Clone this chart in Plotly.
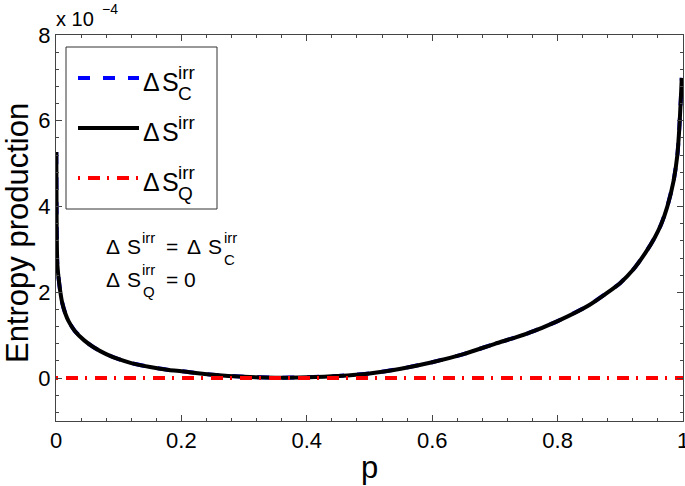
import plotly.graph_objects as go

# ---------------- data (entropy values in units of 1e-4) ----------------
p_vals = [0.0005, 0.001, 0.002, 0.004, 0.0065, 0.01, 0.015, 0.02, 0.03, 0.045,
          0.06, 0.08, 0.10, 0.12, 0.15, 0.18, 0.20, 0.25, 0.30, 0.35,
          0.40, 0.45, 0.50, 0.55, 0.60, 0.65, 0.70, 0.75, 0.80, 0.85,
          0.88, 0.90, 0.92, 0.94, 0.955, 0.965, 0.975, 0.985, 0.991, 0.994,
          0.9965, 0.998]
ds_total = [5.27, 3.6, 2.7, 2.35, 2.05, 1.75, 1.5, 1.33, 1.1, 0.88,
            0.72, 0.56, 0.44, 0.35, 0.26, 0.19, 0.16, 0.08, 0.03, 0.01,
            0.02, 0.05, 0.11, 0.22, 0.37, 0.56, 0.80, 1.03, 1.33, 1.70,
            2.0, 2.22, 2.52, 2.92, 3.28, 3.58, 4.0, 4.6, 5.2, 5.8,
            6.5, 7.0]
ds_classical = list(ds_total)          # ΔS_C^irr coincides with ΔS^irr
p_quantum = [0.0, 1.0]
ds_quantum = [0.0, 0.0]                 # ΔS_Q^irr = 0

x_ticks = [0, 0.2, 0.4, 0.6, 0.8, 1]
y_ticks = [0, 2, 4, 6, 8]

# ---------------- geometry helpers ----------------
W, H = 685, 486
L, R, T, B = 56, 683, 35, 421


def px(x):
    return (x - L) / (R - L)


def py(y):
    return (B - y) / (B - T)


FONT = "Liberation Sans, Arial, Helvetica, sans-serif"

fig = go.Figure()
fig.add_trace(go.Scatter(x=p_vals, y=ds_classical, mode="lines",
                         line=dict(color="#0000FF", width=4, dash="12px,13px",
                                   shape="spline", smoothing=0.6),
                         showlegend=False))
fig.add_trace(go.Scatter(x=p_vals, y=ds_total, mode="lines",
                         line=dict(color="#000000", width=4,
                                   shape="spline", smoothing=0.6),
                         showlegend=False))
fig.add_trace(go.Scatter(x=p_quantum, y=ds_quantum, mode="lines",
                         line=dict(color="#FF0000", width=4, dash="2px,8px,12px,7px"),
                         showlegend=False))

axis_common = dict(
    showline=True, linecolor="#444", linewidth=1, mirror="allticks",
    ticks="inside", ticklen=6, tickcolor="#444", tickwidth=1,
    showgrid=False, zeroline=False, automargin=False,
    ticklabeloverflow="allow",
    tickfont=dict(family=FONT, size=22, color="black"),
)
fig.update_xaxes(range=[0, 1], tickvals=x_ticks,
                 minor=dict(dtick=0.04, tick0=0, ticks="inside", ticklen=3,
                            tickcolor="#444", showgrid=False),
                 **axis_common)
fig.update_yaxes(range=[-1, 8], tickvals=y_ticks,
                 minor=dict(dtick=0.4, tick0=0, ticks="inside", ticklen=3,
                            tickcolor="#444", showgrid=False),
                 **axis_common)

ann = []


def txt(s, x, y, size, xanchor="left", angle=0):
    ann.append(dict(text=s, x=px(x), y=py(y), xref="paper", yref="paper",
                    xanchor=xanchor, yanchor="middle", showarrow=False,
                    textangle=angle, borderpad=0,
                    font=dict(family=FONT, size=size, color="black")))


# axis titles
txt("p", 369, 467, 31, xanchor="center")
txt("Entropy production", 17, 233, 31, xanchor="center", angle=-90)
# exponent label
txt("x 10", 55, 19, 20)
txt("\u22124", 101, 9, 14)

# legend (manual)
shapes = [dict(type="rect", xref="paper", yref="paper",
               x0=px(66), x1=px(217), y0=py(209), y1=py(47),
               line=dict(color="#333", width=1), fillcolor="white", layer="above")]
legend_items = [
    (78, "#0000FF", "12px,13px", "C"),
    (128, "#000000", "solid", None),
    (178, "#FF0000", "2px,8px,12px,7px", "Q"),
]
for ly, col, dash, sub in legend_items:
    shapes.append(dict(type="line", xref="paper", yref="paper",
                       x0=px(78), x1=px(139), y0=py(ly), y1=py(ly),
                       line=dict(color=col, width=4, dash=dash), layer="above"))
    txt("\u0394", 142, ly + 4, 25)
    txt("S", 161, ly + 4, 25)
    txt("irr", 177, ly - 6, 19)
    if sub:
        txt(sub, 177, ly + 15, 19)

# in-plot text
txt("\u0394", 105, 247, 21)
txt("S", 126, 247, 21)
txt("irr", 141, 237, 15)
txt("=", 165, 247, 21)
txt("\u0394", 186, 247, 21)
txt("S", 207, 247, 21)
txt("irr", 223, 237, 15)
txt("C", 223, 259, 15)
txt("\u0394", 105, 279, 21)
txt("S", 126, 279, 21)
txt("irr", 141, 269, 15)
txt("Q", 142, 292, 15)
txt("= 0", 165, 279, 21)

fig.update_layout(
    width=W, height=H,
    margin=dict(l=L, r=W - R, t=T, b=H - B, autoexpand=False),
    paper_bgcolor="white", plot_bgcolor="white",
    showlegend=False,
    annotations=ann, shapes=shapes,
    font=dict(family=FONT),
)

fig.write_html("out.html",
               config={"displayModeBar": False},
               post_script="document.body.style.margin='0';"
                           "document.body.style.padding='0';")
